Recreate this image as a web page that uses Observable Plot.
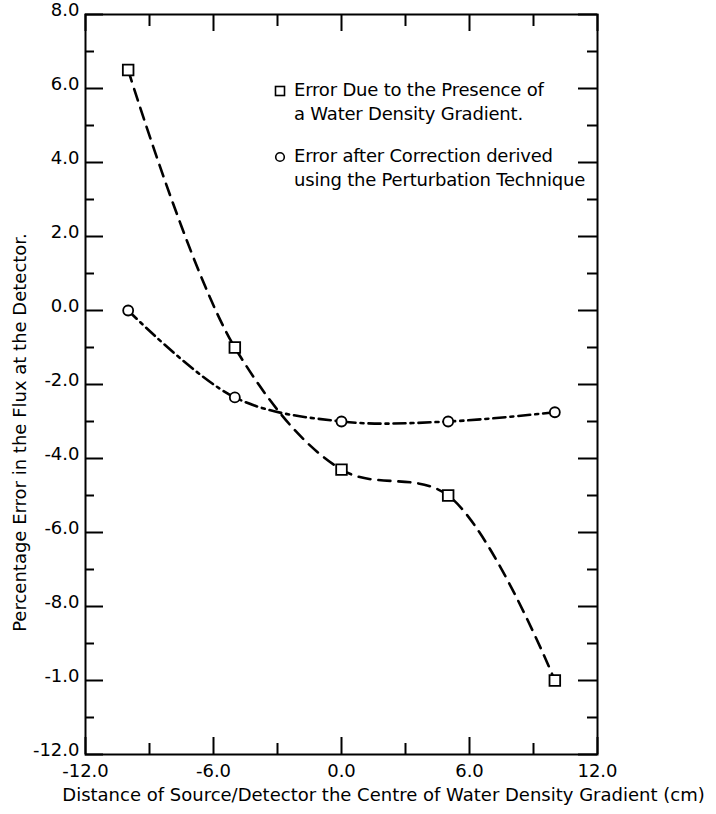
<!DOCTYPE html>
<html>
<head>
<meta charset="utf-8">
<script src="https://cdn.jsdelivr.net/npm/d3@7"></script>
<script src="https://cdn.jsdelivr.net/npm/@observablehq/plot@0.6"></script>
<style>
  html, body { margin: 0; padding: 0; background: #fff; }
  #wrap { position: relative; width: 716px; height: 814px; font-family: "DejaVu Sans", sans-serif; }
  #legend { position: absolute; left: 274px; top: 78px; font-size: 18px; line-height: 24px; color: #000; letter-spacing: -0.2px; }
  .item { display: flex; align-items: flex-start; margin-bottom: 18px; }
  .item svg { margin-right: 8px; margin-top: 7px; flex: none; }
</style>
</head>
<body>
<div id="wrap"><div id="legend"></div></div>
<script>
const xValues = [-10, -5, 0, 5, 10];
const errorGradient = [6.5, -1.0, -4.3, -5.0, -10.0];
const errorCorrected = [0.0, -2.35, -3.0, -3.0, -2.75];

const xMajorTicks = [-12, -6, 0, 6, 12];
const xMajorLabels = ["-12.0", "-6.0", "0.0", "6.0", "12.0"];
const xMinorTicks = [-9, -3, 3, 9];
const yMajorTicks = [8, 6, 4, 2, 0, -2, -4, -6, -8, -10, -12];
const yMajorLabels = ["8.0", "6.0", "4.0", "2.0", "0.0", "-2.0", "-4.0", "-6.0", "-8.0", "-1.0", "-12.0"];
const yMinorTicks = [7, 5, 3, 1, -1, -3, -5, -7, -9, -11];

const seriesNames = [
  "Error Due to the Presence of\na Water Density Gradient.",
  "Error after Correction derived\nusing the Perturbation Technique"
];
const yLabel = "Percentage Error in the Flux at the Detector.";
const xLabel = "Distance of Source/Detector the Centre of Water Density Gradient (cm)";

const gradientData = xValues.map((x, i) => ({x, y: errorGradient[i]}));
const correctedData = xValues.map((x, i) => ({x, y: errorCorrected[i]}));

const W = 716, H = 814;
const mL = 85, mR = 119, mT = 14, mB = 60;
const pw = W - mL - mR, ph = H - mT - mB;

const xFmt = new Map(xMajorTicks.map((t, i) => [t, xMajorLabels[i]]));
const yFmt = new Map(yMajorTicks.map((t, i) => [t, yMajorLabels[i]]));

const chart = Plot.plot({
  width: W, height: H,
  marginLeft: mL, marginRight: mR, marginTop: mT, marginBottom: mB,
  style: {fontFamily: "DejaVu Sans, sans-serif", fontSize: "18px", color: "#000", background: "#fff", overflow: "visible"},
  x: {domain: [-12, 12]},
  y: {domain: [-12, 8]},
  marks: [
    Plot.axisX({ticks: xMajorTicks, tickFormat: d => xFmt.get(d), tickSize: 0, tickPadding: 10, label: null, fontSize: 18}),
    Plot.axisY({ticks: yMajorTicks, tickFormat: d => yFmt.get(d), tickSize: 0, tickPadding: 6, dy: -4, label: null, fontSize: 18}),
    // inward ticks: left
    Plot.tickY(yMajorTicks, {y: d => d, insetRight: pw - 18, strokeWidth: 2}),
    Plot.tickY(yMinorTicks, {y: d => d, insetRight: pw - 9, strokeWidth: 2}),
    // right
    Plot.tickY(yMajorTicks, {y: d => d, insetLeft: pw - 19, strokeWidth: 2}),
    Plot.tickY(yMinorTicks, {y: d => d, insetLeft: pw - 10, strokeWidth: 2}),
    // bottom
    Plot.tickX(xMajorTicks, {x: d => d, insetTop: ph - 17, strokeWidth: 2}),
    Plot.tickX(xMinorTicks, {x: d => d, insetTop: ph - 11, strokeWidth: 2}),
    // top
    Plot.tickX(xMajorTicks, {x: d => d, insetBottom: ph - 17, strokeWidth: 2}),
    Plot.tickX(xMinorTicks, {x: d => d, insetBottom: ph - 12, strokeWidth: 2}),
    Plot.frame({stroke: "#000", strokeWidth: 2}),
    Plot.line(gradientData, {x: "x", y: "y", curve: "catmull-rom", stroke: "#000", strokeWidth: 2.6, strokeDasharray: "12,8"}),
    Plot.line(correctedData, {x: "x", y: "y", curve: "catmull-rom", stroke: "#000", strokeWidth: 2.6, strokeDasharray: "12,5,3,5"}),
    Plot.dot(gradientData, {x: "x", y: "y", symbol: "square", r: 6, fill: "#fff", stroke: "#000", strokeWidth: 1.8}),
    Plot.dot(correctedData, {x: "x", y: "y", symbol: "circle", r: 5, fill: "#fff", stroke: "#000", strokeWidth: 1.8}),
    Plot.text([yLabel], {text: d => d, frameAnchor: "left", textAnchor: "middle", rotate: -90, dx: -65, dy: 48, fontSize: 18, fill: "#000"}),
    Plot.text([xLabel], {text: d => d, frameAnchor: "bottom", textAnchor: "middle", dx: 42, dy: 46, fontSize: 18, fill: "#000"})
  ]
});
document.getElementById("wrap").prepend(chart);

const legend = document.getElementById("legend");
const symbols = [
  '<svg width="12" height="12"><rect x="1.5" y="1.5" width="9" height="9" fill="#fff" stroke="#000" stroke-width="1.6"/></svg>',
  '<svg width="12" height="12"><circle cx="6" cy="6" r="4.3" fill="#fff" stroke="#000" stroke-width="1.6"/></svg>'
];
seriesNames.forEach((name, i) => {
  const div = document.createElement("div");
  div.className = "item";
  div.innerHTML = symbols[i] + "<div>" + name.split("\n").join("<br>") + "</div>";
  legend.appendChild(div);
});
</script>
</body>
</html>
